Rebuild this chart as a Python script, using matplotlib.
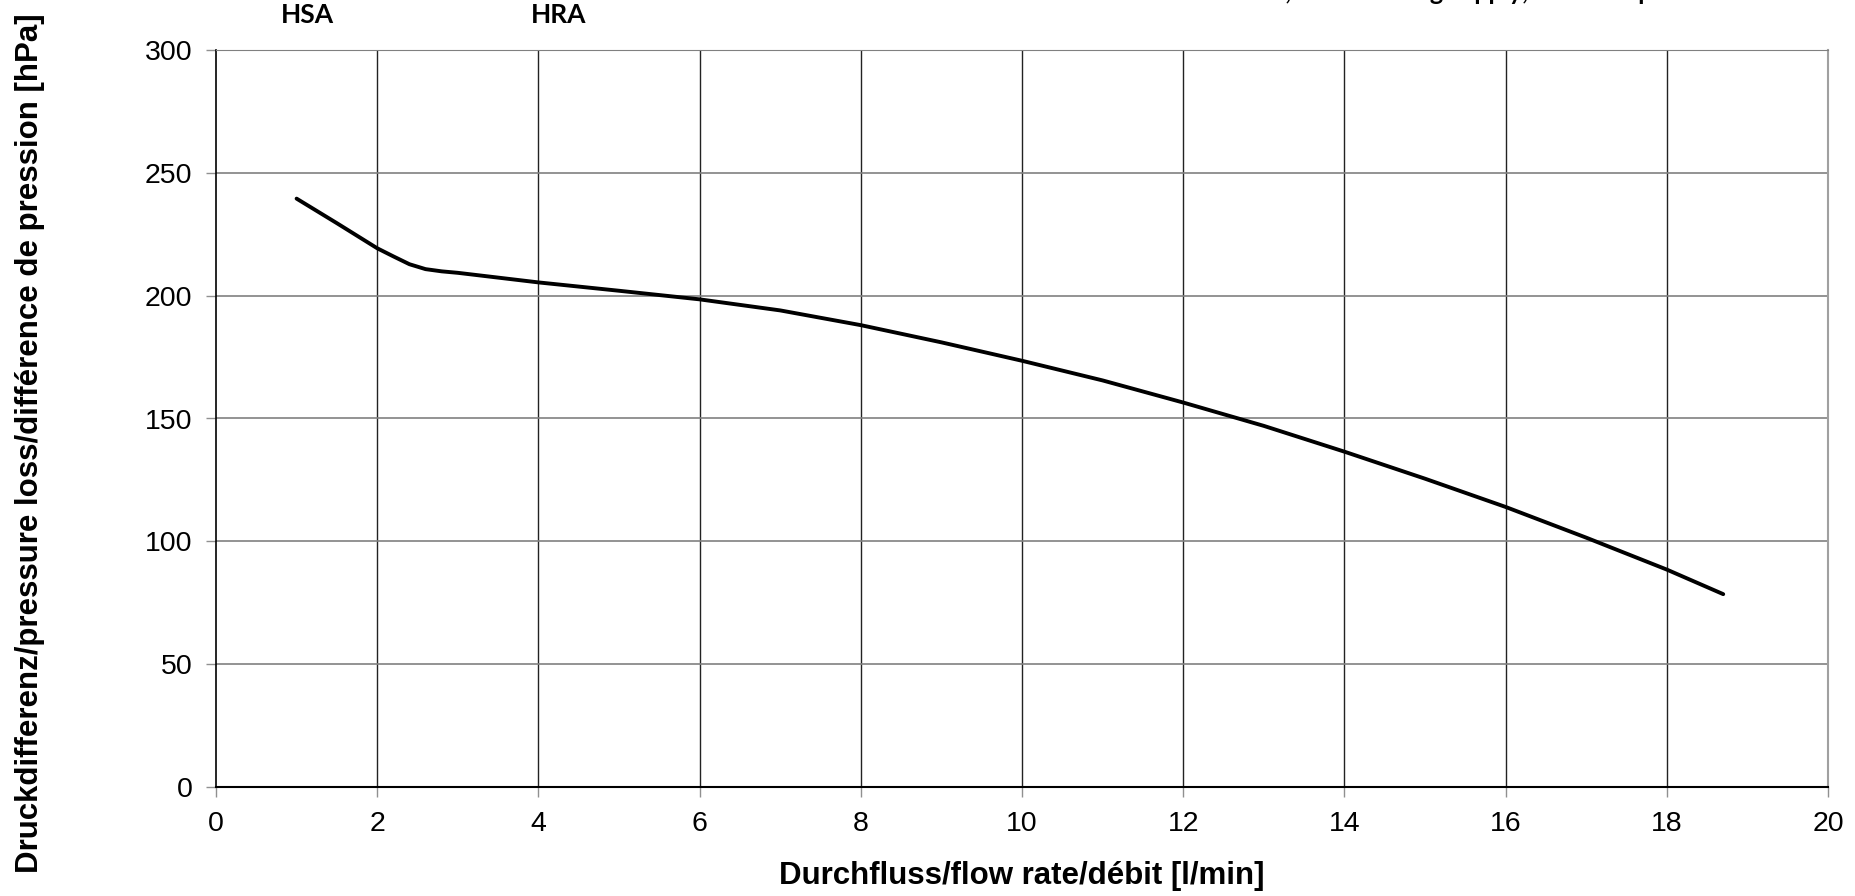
import matplotlib.pyplot as plt

# Kennlinie (Durchfluss l/min -> Druckdifferenz hPa)
flow = [1.0, 1.5, 2.0, 2.2, 2.4, 2.6, 2.8, 3.0, 4.0, 5.0, 6.0, 7.0, 8.0,
        9.0, 10.0, 11.0, 12.0, 13.0, 14.0, 15.0, 16.0, 17.0, 18.0, 18.7]
pressure = [239.5, 229.5, 219.3, 216.0, 212.8, 210.8, 209.9, 209.3, 205.4,
            202.0, 198.5, 194.0, 188.0, 181.0, 173.5, 165.5, 156.5, 147.0,
            136.5, 125.5, 114.0, 101.5, 88.5, 78.5]

x_ticks = list(range(0, 21, 2))
y_ticks = list(range(0, 301, 50))

top_labels = ['HSA', 'HRA']
top_label_x = [307, 559]   # Pixel im Bild
top_note = 'Vorlauf, Solar heating supply, Rücklauf pro'

plt.rcParams['font.family'] = ['Liberation Sans', 'DejaVu Sans']

fig = plt.figure(figsize=(18.56, 8.96), dpi=100)
ax = fig.add_axes([216 / 1856, 1 - 787 / 896, (1828 - 216) / 1856, (787 - 50) / 896])

ax.plot(flow, pressure, color='black', linewidth=2.8,
        solid_capstyle='round', solid_joinstyle='round')

ax.set_xlim(0, 20)
ax.set_ylim(0, 300)
ax.set_xticks(x_ticks)
ax.set_yticks(y_ticks)

# Gitter: senkrecht dunkel, waagrecht grau
for xv in x_ticks[1:-1]:
    ax.axvline(xv, color='#222222', linewidth=1.0, zorder=0)
for yv in y_ticks[1:]:
    ax.axhline(yv, color='#808080', linewidth=1.2, zorder=0)

ax.spines['left'].set_color('black')
ax.spines['bottom'].set_color('black')
ax.spines['left'].set_linewidth(1.2)
ax.spines['bottom'].set_linewidth(1.5)
ax.spines['top'].set_color('#808080')
ax.spines['right'].set_color('#a0a0a0')
ax.spines['right'].set_linewidth(1.5)

ax.tick_params(axis='both', direction='out', length=7, width=1.0,
               color='#909090', labelsize=20.5, pad=10)

ax.set_xlabel('Durchfluss/flow rate/débit [l/min]', fontsize=22.5,
              fontweight='bold')
ax.xaxis.set_label_coords(0.5, -(861 - 787) / 737)
ax.set_ylabel('Druckdifferenz/pressure loss/différence de pression [hPa]',
              fontsize=22.5, fontweight='bold')
ax.yaxis.set_label_coords(-(216 - 45) / (1828 - 216), 0.466)

for lbl, px in zip(top_labels, top_label_x):
    fig.text(px / 1856, 1 - 15 / 896, lbl, ha='center', va='center',
             fontsize=19, fontweight='bold', family=['Lato', 'DejaVu Sans'])

# Text oben rechts ist im Original abgeschnitten
fig.text(1202 / 1856, 1.0, top_note, ha='left', va='baseline',
         fontsize=18, fontweight='bold', family=['Lato', 'DejaVu Sans'])

fig.savefig('out.png', dpi=100)
